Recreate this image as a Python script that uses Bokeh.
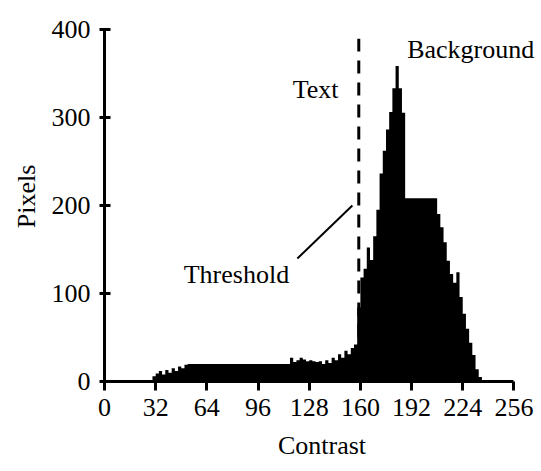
from bokeh.plotting import figure
from bokeh.models import Range1d, FixedTicker, Label
from bokeh.embed import file_html
from bokeh.resources import INLINE

# ---- data ----
bin_width = 2
bin_left = list(range(30, 236, 2))
pixels = [
    6, 9, 12, 8, 13, 10, 15, 12, 17, 15, 19,                      # 30-50
    20, 20, 20, 20, 20, 20, 20, 20, 20, 20, 20, 20, 20, 20, 20, 20,  # 52-82
    20, 20, 20, 20, 20, 20, 20, 20, 20, 20, 20, 20, 20, 20, 20, 20,  # 84-114
    27, 22, 24, 27, 25, 23, 24, 23, 22, 23, 20, 24, 21, 27, 24, 31,  # 116-146
    27, 35, 31, 38, 42, 84, 118, 128, 152, 138, 165, 195, 236, 262,  # 148-174
    286, 306, 333, 358, 333, 305,                                  # 176-186
    208, 208, 208, 208, 208, 208, 208, 208, 208, 208,              # 188-206
    190, 175, 158, 137, 122, 112, 124, 96, 77, 60, 44, 30, 14, 5,  # 208-234
]
x_ticks = [0, 32, 64, 96, 128, 160, 192, 224, 256]
y_ticks = [0, 100, 200, 300, 400]
threshold = 159
threshold_top = 389
pointer_x = [120.6, 155]
pointer_y = [139.6, 199.8]

FONT = "Liberation Serif"
FS = "26px"

step_x = bin_left + [bin_left[-1] + bin_width]
step_y = pixels + [0]

p = figure(
    frame_width=435, frame_height=370,
    min_border_left=104, min_border_right=0, min_border_top=11, min_border_bottom=85,
    x_range=Range1d(0, 272), y_range=Range1d(0, 420),
    output_backend="svg", toolbar_location=None,
)
p.outline_line_color = None
p.xgrid.grid_line_color = None
p.ygrid.grid_line_color = None
p.background_fill_color = "white"
p.border_fill_color = "white"

p.varea_step(x=step_x, y1=[0] * len(step_x), y2=step_y, step_mode="after",
             fill_color="black")

p.line(x=[threshold, threshold], y=[0, threshold_top], line_color="black",
       line_width=3, line_dash="13 9")
p.line(x=pointer_x, y=pointer_y, line_color="black", line_width=2)

for ax in (p.xaxis[0], p.yaxis[0]):
    ax.axis_line_width = 3
    ax.axis_line_color = "black"
    ax.major_tick_line_width = 3
    ax.major_tick_line_color = "black"
    ax.minor_tick_line_color = None
    ax.major_label_text_font = FONT
    ax.major_label_text_font_size = FS
    ax.major_label_text_color = "black"
    ax.axis_label_text_font = FONT
    ax.axis_label_text_font_size = FS
    ax.axis_label_text_font_style = "normal"
    ax.axis_label_text_color = "black"

p.xaxis.ticker = FixedTicker(ticks=x_ticks)
p.xaxis.bounds = (0, 256)
p.xaxis.major_tick_out = 9
p.xaxis.major_tick_in = 0
p.xaxis.major_label_standoff = 8
p.xaxis.axis_label = "Contrast"
p.xaxis.axis_label_standoff = 12

p.yaxis.ticker = FixedTicker(ticks=y_ticks)
p.yaxis.bounds = (0, 400)
p.yaxis.major_tick_out = 5
p.yaxis.major_tick_in = 6
p.yaxis.major_label_standoff = 9
p.yaxis.axis_label = "Pixels"
p.yaxis.axis_label_standoff = 8


def lab(x, y, t):
    p.add_layout(Label(x=x, y=y, text=t, text_font=FONT, text_font_size=FS,
                       text_color="black", text_align="center",
                       text_baseline="middle"))


lab(132, 331, "Text")
lab(229, 377, "Background")
lab(82.5, 122, "Threshold")

open("out.html", "w").write(file_html(p, INLINE))
